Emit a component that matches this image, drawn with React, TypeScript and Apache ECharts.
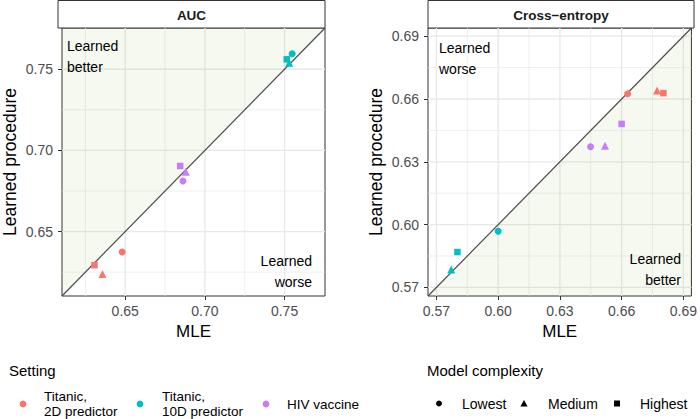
import React, { useEffect, useRef } from "react";
import * as echarts from "echarts";

const settings = ["Titanic,\n2D predictor", "Titanic,\n10D predictor", "HIV vaccine"];
const settingColors = ["#F8766D", "#00BFC4", "#C77CFF"];
const complexities = ["Lowest", "Medium", "Highest"];
const complexitySymbols = ["circle", "triangle", "rect"];
const complexitySizes = [7, 8, 6.5];

// values indexed [setting][complexity]
const aucMLE = [
  [0.6481, 0.6357, 0.6307],
  [0.7548, 0.7529, 0.7514],
  [0.6862, 0.688, 0.6845],
];
const aucLearned = [
  [0.6374, 0.6238, 0.6293],
  [0.7595, 0.754, 0.7561],
  [0.6811, 0.6868, 0.6904],
];
const ceMLE = [
  [0.6629, 0.6772, 0.6803],
  [0.6, 0.5772, 0.5802],
  [0.6449, 0.6519, 0.66],
];
const ceLearned = [
  [0.6625, 0.664, 0.6628],
  [0.5968, 0.5786, 0.5869],
  [0.6372, 0.6377, 0.6481],
];

const aucLimits = [0.6103, 0.7754];
const ceLimits = [0.5659, 0.6939];
const aucTicks = [0.65, 0.7, 0.75];
const aucMinor = [0.625, 0.675, 0.725];
const ceTicks = [0.57, 0.6, 0.63, 0.66, 0.69];
const ceMinor = [0.585, 0.615, 0.645, 0.675];

const FONT = "'Liberation Sans', Arial, Helvetica, sans-serif";

const panels = [
  {
    title: "AUC",
    grid: { left: 58, top: 28, width: 267, height: 268 },
    limits: aucLimits,
    ticks: aucTicks,
    minor: aucMinor,
    mle: aucMLE,
    learned: aucLearned,
    shadeUpper: true,
  },
  {
    title: "Cross\u2212entropy",
    grid: { left: 428, top: 28, width: 266, height: 268 },
    limits: ceLimits,
    ticks: ceTicks,
    minor: ceMinor,
    mle: ceMLE,
    learned: ceLearned,
    shadeUpper: false,
  },
];

function buildOption() {
  const series: any[] = [];
  panels.forEach((p, i) => {
    const [lo, hi] = p.limits;
    series.push({
      type: "custom",
      xAxisIndex: i,
      yAxisIndex: i,
      z: 1,
      silent: true,
      data: [[lo, lo]],
      renderItem: (params: any, api: any) => {
        if (params.dataIndex !== 0) return null;
        const children: any[] = [];
        const add = (v: number, vertical: boolean, w: number) => {
          const a = vertical ? api.coord([v, lo]) : api.coord([lo, v]);
          const b = vertical ? api.coord([v, hi]) : api.coord([hi, v]);
          children.push({
            type: "line",
            shape: { x1: a[0], y1: a[1], x2: b[0], y2: b[1] },
            style: { stroke: "#E8E8E8", lineWidth: w },
          });
        };
        p.minor.forEach((v) => {
          add(v, true, 0.7);
          add(v, false, 0.7);
        });
        p.ticks.forEach((v) => {
          add(v, true, 1.3);
          add(v, false, 1.3);
        });
        return { type: "group", children };
      },
    });
    const verts = p.shadeUpper
      ? [
          [lo, lo],
          [lo, hi],
          [hi, hi],
        ]
      : [
          [lo, lo],
          [hi, lo],
          [hi, hi],
        ];
    series.push({
      type: "custom",
      xAxisIndex: i,
      yAxisIndex: i,
      z: 2,
      silent: true,
      data: verts,
      renderItem: (params: any, api: any) => {
        if (params.dataIndex !== 0) return null;
        const pts = verts.map((v) => api.coord(v));
        return {
          type: "polygon",
          shape: { points: pts },
          style: { fill: "rgba(120,180,60,0.075)" },
        };
      },
    });
    series.push({
      type: "line",
      xAxisIndex: i,
      yAxisIndex: i,
      z: 3,
      silent: true,
      symbol: "none",
      data: [
        [lo, lo],
        [hi, hi],
      ],
      lineStyle: { color: "#4D4D4D", width: 1.2 },
    });
    settings.forEach((s, si) => {
      series.push({
        type: "scatter",
        name: s,
        xAxisIndex: i,
        yAxisIndex: i,
        z: 4,
        itemStyle: { color: settingColors[si], opacity: 1 },
        data: complexities.map((c, ci) => ({
          name: c,
          value: [p.mle[si][ci], p.learned[si][ci]],
          symbol: complexitySymbols[ci],
          symbolSize: complexitySizes[ci],
        })),
      });
    });
  });

  const graphic: any[] = [];
  panels.forEach((p) => {
    graphic.push({
      type: "rect",
      shape: { x: p.grid.left, y: 0.5, width: p.grid.width, height: 27.5 },
      style: { fill: "#fff", stroke: "#333333", lineWidth: 1 },
      silent: true,
    });
    graphic.push({
      type: "text",
      x: p.grid.left + p.grid.width / 2,
      y: 15,
      style: {
        text: p.title,
        fontFamily: FONT,
        fontSize: 13.5,
        fontWeight: "bold",
        fill: "#1A1A1A",
        align: "center",
        verticalAlign: "middle",
      },
      silent: true,
    });
  });
  const note = (text: string, x: number, y: number, align: string) => ({
    type: "text",
    x,
    y,
    z: 10,
    style: {
      text,
      fontFamily: FONT,
      fontSize: 14,
      lineHeight: 21,
      fill: "#000",
      align,
      verticalAlign: "middle",
    },
    silent: true,
  });
  graphic.push(note("Learned\nbetter", 67, 56.5, "left"));
  graphic.push(note("Learned\nworse", 312, 271.5, "right"));
  graphic.push(note("Learned\nworse", 439, 58.5, "left"));
  graphic.push(note("Learned\nbetter", 681, 269.5, "right"));

  const legendText = (text: string, x: number, y: number, size: number, lh: number) => ({
    type: "text",
    x,
    y,
    style: {
      text,
      fontFamily: FONT,
      fontSize: size,
      lineHeight: lh,
      fill: "#000",
      align: "left",
      verticalAlign: "middle",
    },
    silent: true,
  });
  graphic.push(legendText("Setting", 9, 370, 15, 17));
  const dotX = [23, 140, 266];
  const textX = [44, 162, 287];
  settings.forEach((s, si) => {
    graphic.push({
      type: "circle",
      shape: { cx: dotX[si], cy: 404, r: 3.4 },
      style: { fill: settingColors[si] },
      silent: true,
    });
    graphic.push(legendText(s, textX[si], 404, 13.5, 15.5));
  });
  graphic.push(legendText("Model complexity", 427, 370, 15, 17));
  const shapeX = [439, 524, 617];
  const labelX = [462, 548, 640];
  complexities.forEach((c, ci) => {
    const cx = shapeX[ci];
    const cy = 403.5;
    if (ci === 0) {
      graphic.push({ type: "circle", shape: { cx, cy, r: 3 }, style: { fill: "#000" }, silent: true });
    } else if (ci === 1) {
      graphic.push({
        type: "polygon",
        shape: { points: [[cx - 3.6, cy + 3], [cx + 3.6, cy + 3], [cx, cy - 3.6]] },
        style: { fill: "#000" },
        silent: true,
      });
    } else {
      graphic.push({ type: "rect", shape: { x: cx - 3, y: cy - 3, width: 6, height: 6 }, style: { fill: "#000" }, silent: true });
    }
    graphic.push(legendText(c, labelX[ci], 404, 14, 16));
  });

  const axisCommon = (p: any, i: number, name: string, isY: boolean) => ({
    type: "value",
    gridIndex: i,
    min: p.limits[0],
    max: p.limits[1],
    name,
    nameLocation: "middle",
    nameGap: isY ? 43 : 26,
    nameTextStyle: { fontSize: isY ? 17.5 : 17, color: "#000", fontFamily: FONT },
    axisLine: { show: false },
    axisTick: {
      show: true,
      length: 4,
      customValues: p.ticks,
      lineStyle: { color: "#333333", width: 1 },
    },
    axisLabel: {
      customValues: p.ticks,
      formatter: (v: number) => v.toFixed(2),
      fontSize: 14,
      color: "#4D4D4D",
      fontFamily: FONT,
      margin: isY ? 9 : 8,
    },
    splitLine: { show: false },
    minorSplitLine: { show: false },
  });

  return {
    animation: false,
    backgroundColor: "#ffffff",
    textStyle: { fontFamily: FONT },
    grid: panels.map((p) => ({
      ...p.grid,
      show: true,
      borderColor: "#333333",
      borderWidth: 1,
      backgroundColor: "#ffffff",
    })),
    xAxis: panels.map((p, i) => axisCommon(p, i, "MLE", false)),
    yAxis: panels.map((p, i) => axisCommon(p, i, "Learned procedure", true)),
    series,
    graphic,
  };
}

export default function App() {
  const ref = useRef<HTMLDivElement>(null);
  useEffect(() => {
    if (!ref.current) return;
    const chart = echarts.init(ref.current, undefined, { renderer: "svg" });
    chart.setOption(buildOption() as any);
    return () => chart.dispose();
  }, []);
  return (
    <div
      ref={ref}
      style={{ position: "absolute", left: 0, top: 0, width: 700, height: 419, background: "#fff" }}
    />
  );
}
